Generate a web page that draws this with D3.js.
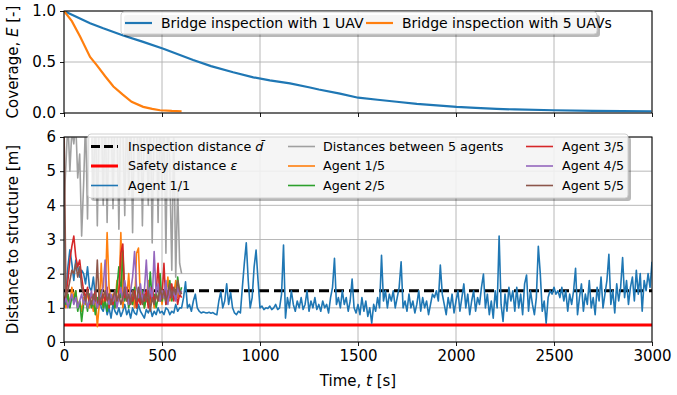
<!DOCTYPE html>
<html>
<head>
<meta charset="utf-8">
<script src="https://cdn.jsdelivr.net/npm/d3@7"></script>
<style>
  body { margin: 0; background: #fff; }
  text { font-family: "DejaVu Sans", sans-serif; fill: #000; }
</style>
</head>
<body>
<svg id="chart" width="677" height="395"></svg>
<script>
// coverage curves (top panel)
const covTime1 = [0, 133, 200, 302, 400, 507, 659, 750, 863, 966, 1050, 1153, 1255, 1300, 1408, 1501, 1600, 1697, 1800, 2003, 2100, 2207, 2300, 2496, 2700, 2997];
const cov1 = [1.0, 0.88, 0.83, 0.76, 0.70, 0.63, 0.52, 0.46, 0.40, 0.35, 0.32, 0.29, 0.25, 0.23, 0.19, 0.15, 0.13, 0.11, 0.09, 0.06, 0.05, 0.04, 0.035, 0.027, 0.02, 0.017];
const covTime5 = [0, 40, 82, 133, 167, 210, 252, 300, 345, 404, 450, 490, 550, 600];
const cov5 = [1.0, 0.9, 0.75, 0.55, 0.47, 0.36, 0.26, 0.18, 0.11, 0.06, 0.04, 0.027, 0.02, 0.017];

// distance series, sampled every 10 s
const step = 10;
const inspectionDist = 1.5;
const safetyDist = 0.5;

const agent11 = [
  1.0, 1.4, 2.2, 2.7, 2.3, 1.8, 2.4, 2.2, 1.9, 2.1,
  2.0, 1.7, 2.2, 1.6, 1.5, 1.9, 1.3, 1.1, 1.4, 1.0,
  0.9, 1.2, 0.8, 1.0, 0.7, 1.1, 0.9, 0.8, 1.0, 0.75,
  0.9, 1.1, 0.8, 0.95, 0.7, 1.0, 0.85, 0.8, 1.1, 0.9,
  0.8, 0.7, 0.95, 0.85, 1.0, 0.75, 0.9, 0.8, 1.0, 0.85,
  0.9, 0.8, 1.0, 0.95, 0.8, 0.9, 0.85, 1.1, 0.9, 1.0,
  1.0, 1.3, 1.76, 1.0, 1.1, 0.9, 1.2, 1.4, 1.0, 0.9,
  0.85, 0.88, 0.86, 0.85, 0.87, 0.84, 0.86, 0.82, 0.8, 1.2,
  1.47, 1.0, 1.2, 1.7, 1.1, 1.45, 1.0, 0.85, 0.8, 0.9,
  0.85, 1.6, 2.3, 2.9, 1.8, 1.0, 1.3, 2.2, 2.69, 1.8,
  1.0, 1.05, 0.95, 1.0, 0.98, 1.05, 0.95, 1.0, 1.1, 0.95,
  1.0, 1.4, 2.84, 0.7, 1.3, 1.0, 1.5, 1.1, 0.9, 1.2,
  1.0, 1.3, 0.95, 1.1, 1.5, 0.9, 1.2, 1.0, 1.3, 0.95,
  1.1, 0.9, 1.2, 1.0, 1.1, 0.85, 1.3, 1.6, 2.45, 1.1,
  1.3, 1.0, 1.5, 1.1, 1.3, 0.9, 1.2, 1.84, 1.0, 0.85,
  1.1, 0.8, 1.3, 0.9, 1.2, 0.75, 1.0, 0.55, 1.1, 0.9,
  1.3, 1.0, 2.54, 1.2, 1.5, 1.0, 1.4, 1.2, 1.5, 1.0,
  1.3, 1.6, 2.35, 1.0, 1.2, 0.9, 1.4, 1.0, 1.2, 0.85,
  1.1, 1.5, 0.9, 1.3, 1.0, 1.2, 0.8, 1.1, 1.4, 1.3,
  1.5, 1.2, 2.25, 1.4, 1.1, 0.8, 1.3, 1.0, 1.4, 0.85,
  1.2, 1.5, 0.9, 1.3, 1.7, 1.0, 1.4, 0.8, 1.2, 1.5,
  0.9, 1.3, 1.1, 1.6, 1.99, 1.0, 1.4, 0.8, 1.2, 0.7,
  1.5, 1.0, 3.1, 1.1, 0.6, 1.4, 0.9, 1.6, 1.2, 1.5,
  0.9, 1.6, 1.0, 1.4, 0.8, 1.7, 1.96, 0.9, 1.5, 1.1,
  0.8, 1.3, 2.8, 2.0, 0.9, 1.2, 0.55, 1.3, 1.5, 1.4,
  1.6, 1.4, 1.5, 1.3, 1.6, 1.2, 1.5, 0.9, 1.4, 1.1,
  1.5, 2.16, 0.8, 1.3, 1.7, 0.9, 1.4, 1.1, 1.8, 1.0,
  1.3, 0.8, 1.6, 1.2, 1.9, 1.0, 1.4, 1.8, 2.57, 1.1,
  1.5, 0.85, 1.7, 1.2, 1.6, 2.47, 1.3, 1.8, 1.1, 1.6,
  1.9, 1.2, 2.1, 1.4, 2.0, 0.9, 1.8, 1.5, 2.0, 1.6, 2.35
];

const pairDist = [
  4.0, 5.2, 6.5, 5.0, 6.2, 5.8, 6.4, 4.8, 5.5, 3.1,
  4.6, 6.5, 3.6, 7.0, 6.5, 4.2, 7.0, 3.4, 6.8, 7.0,
  4.0, 7.0, 3.5, 6.6, 7.0, 3.9, 7.0, 6.5, 3.3, 7.0,
  6.4, 3.7, 7.0, 4.3, 7.0, 3.2, 6.8, 7.0, 4.6, 7.0,
  3.4, 6.5, 7.0, 4.0, 7.0, 2.9, 6.6, 7.0, 3.5, 7.0,
  4.2, 6.8, 2.6, 7.0, 5.0, 2.1, 6.2, 1.9, 4.5, 2.3, 2.0
];

const agent15 = [
  1.2, 1.0, 1.4, 1.1, 1.6, 1.3, 1.5, 1.0, 1.2, 0.9,
  1.3, 1.1, 1.5, 1.0, 1.2, 0.9, 1.4, 0.45, 1.1, 2.3,
  1.0, 1.3, 3.2, 1.6, 1.2, 1.4, 1.0, 1.8, 1.2, 3.2,
  1.0, 1.5, 1.2, 2.0, 1.1, 1.4, 1.0, 2.6, 2.75, 1.2,
  1.5, 1.0, 1.3, 1.8, 1.1, 1.6, 1.0, 1.4, 1.2, 1.7,
  1.1, 1.5, 1.3, 1.9, 1.2, 1.6, 1.4, 1.8, 1.3, 1.5, 1.4
];
const agent25 = [
  1.3, 1.1, 1.4, 1.0, 1.3, 1.2, 1.5, 0.9, 1.2, 0.6,
  1.1, 1.3, 0.9, 1.4, 1.0, 1.2, 0.8, 1.3, 1.1, 1.5,
  1.0, 1.2, 0.9, 1.4, 1.1, 1.3, 1.0, 1.6, 2.2, 1.3,
  2.67, 1.2, 1.5, 1.0, 1.3, 1.1, 1.6, 1.0, 1.4, 1.2,
  1.5, 1.0, 1.3, 1.1, 2.05, 1.2, 1.4, 1.0, 1.3, 2.0,
  1.2, 1.5, 1.1, 1.4, 1.8, 1.2, 1.5, 1.3, 1.9, 1.4, 1.6
];
const agent35 = [
  1.2, 1.4, 1.8, 2.4, 2.8, 3.1, 2.5, 2.2, 2.4, 1.9,
  1.5, 1.3, 1.6, 1.1, 1.4, 1.2, 1.5, 1.0, 1.3, 1.1,
  1.4, 1.2, 1.6, 1.0, 1.3, 1.1, 1.5, 1.2, 1.4, 2.6,
  2.87, 1.3, 1.6, 1.1, 1.4, 1.2, 1.5, 1.0, 1.3, 1.1,
  1.4, 1.2, 1.5, 1.0, 1.3, 1.6, 1.2, 1.4, 2.3, 1.2,
  1.3, 2.3, 1.1, 1.5, 1.3, 1.7, 1.2, 1.5, 1.1, 1.4, 1.3
];
const agent45 = [
  1.1, 1.3, 1.0, 1.2, 1.4, 1.1, 1.3, 1.0, 1.2, 1.4,
  1.1, 1.3, 1.0, 1.2, 1.5, 1.1, 1.3, 1.0, 1.2, 1.4,
  1.6, 2.4, 1.3, 1.1, 1.4, 1.2, 1.5, 1.0, 1.3, 1.6,
  1.2, 1.8, 1.4, 1.1, 1.5, 1.9, 2.65, 1.6, 1.3, 1.7,
  1.2, 1.5, 2.4, 1.3, 1.6, 1.2, 2.65, 1.4, 1.7, 1.2,
  1.5, 1.3, 1.8, 1.1, 1.6, 1.3, 1.5, 1.2, 1.6, 1.4, 1.5
];
const agent55 = [
  6.5, 1.3, 1.5, 1.8, 2.1, 2.0, 2.3, 1.9, 2.2, 1.6,
  1.4, 1.2, 1.5, 1.3, 1.1, 1.4, 1.2, 2.4, 1.1, 1.3,
  1.3, 1.5, 1.2, 1.4, 1.1, 1.3, 1.5, 1.2, 1.4, 1.1,
  1.3, 1.6, 1.2, 1.4, 1.1, 1.5, 1.3, 1.2, 1.6, 1.3,
  1.1, 1.4, 1.2, 1.5, 0.9, 1.3, 1.1, 1.4, 1.2, 1.6,
  1.3, 1.5, 1.2, 1.4, 1.7, 1.3, 1.6, 1.4, 1.8, 1.5, 1.4
];

const xTicks = [0, 500, 1000, 1500, 2000, 2500, 3000];
const covTicks = [0, 0.5, 1.0];
const distTicks = [0, 1, 2, 3, 4, 5, 6];

const C = {
  blue: "#1f77b4", orange: "#ff7f0e", green: "#2ca02c", red: "#d62728",
  purple: "#9467bd", brown: "#8c564b", gray: "#a0a0a0"
};

const svg = d3.select("#chart");
const L = 64, R = 652;
const top1 = 11, bot1 = 113, top2 = 137, bot2 = 342;
const tickFont = "15px";

const x = d3.scaleLinear().domain([0, 3000]).range([L, R]);
const y1 = d3.scaleLinear().domain([0, 1]).range([bot1, top1]);
const y2 = d3.scaleLinear().domain([0, 6]).range([bot2, top2]);

const defs = svg.append("defs");
defs.append("clipPath").attr("id", "clip1").append("rect")
  .attr("x", L).attr("y", top1).attr("width", R - L).attr("height", bot1 - top1);
defs.append("clipPath").attr("id", "clip2").append("rect")
  .attr("x", L).attr("y", top2).attr("width", R - L).attr("height", bot2 - top2);

function grid(g, y, yTicks, top, bot) {
  g.selectAll(".gx").data(xTicks).enter().append("line")
    .attr("x1", d => x(d)).attr("x2", d => x(d)).attr("y1", top).attr("y2", bot)
    .attr("stroke", "#b0b0b0").attr("stroke-width", 0.9);
  g.selectAll(".gy").data(yTicks).enter().append("line")
    .attr("x1", L).attr("x2", R).attr("y1", d => y(d)).attr("y2", d => y(d))
    .attr("stroke", "#b0b0b0").attr("stroke-width", 0.9);
}

function axes(y, yTicks, fmt, top, bot, showX) {
  const ax = svg.append("g").attr("transform", `translate(0,${bot})`)
    .call(d3.axisBottom(x).tickValues(xTicks).tickSize(4).tickPadding(4)
      .tickFormat(showX ? d3.format("d") : ""));
  const ay = svg.append("g").attr("transform", `translate(${L},0)`)
    .call(d3.axisLeft(y).tickValues(yTicks).tickSize(4).tickPadding(4).tickFormat(fmt));
  [ax, ay].forEach(a => {
    a.select(".domain").remove();
    a.selectAll("text").style("font-size", tickFont).style("font-family", "DejaVu Sans");
    a.selectAll("line").attr("stroke", "#000").attr("stroke-width", 0.9);
  });
  svg.append("rect").attr("x", L).attr("y", top).attr("width", R - L).attr("height", bot - top)
    .attr("fill", "none").attr("stroke", "#000").attr("stroke-width", 1);
}

function legend(x0, y0, w, h, fs, items) {
  const g = svg.append("g");
  g.append("rect").attr("x", x0 + 3).attr("y", y0 + 3).attr("width", w).attr("height", h)
    .attr("rx", 3).attr("fill", "#000").attr("opacity", 0.28);
  g.append("rect").attr("x", x0).attr("y", y0).attr("width", w).attr("height", h)
    .attr("rx", 3).attr("fill", "#fff").attr("fill-opacity", 0.85)
    .attr("stroke", "#d0d0d0").attr("stroke-width", 1);
  items.forEach(it => {
    g.append("line").attr("x1", it.x).attr("x2", it.x + 27).attr("y1", it.y).attr("y2", it.y)
      .attr("stroke", it.color).attr("stroke-width", it.lw)
      .attr("stroke-dasharray", it.dash || null);
    g.append("text").attr("x", it.tx).attr("y", it.y).attr("dy", "0.35em")
      .style("font-size", fs).html(it.label);
  });
}

// ---- top panel ----
const g1 = svg.append("g");
grid(g1, y1, covTicks, top1, bot1);
const line1 = d3.line().x(d => x(d[0])).y(d => y1(d[1]));
const p1 = svg.append("g").attr("clip-path", "url(#clip1)");
p1.append("path").datum(d3.zip(covTime1, cov1)).attr("d", line1)
  .attr("fill", "none").attr("stroke", C.blue).attr("stroke-width", 2.2);
p1.append("path").datum(d3.zip(covTime5, cov5)).attr("d", line1)
  .attr("fill", "none").attr("stroke", C.orange).attr("stroke-width", 2.2);
axes(y1, covTicks, d3.format(".1f"), top1, bot1, false);

// ---- bottom panel ----
const g2 = svg.append("g");
grid(g2, y2, distTicks, top2, bot2);
const line2 = d3.line().x((d, i) => x(i * step)).y(d => y2(d));
const p2 = svg.append("g").attr("clip-path", "url(#clip2)");
p2.append("line").attr("x1", x(0)).attr("x2", x(3000))
  .attr("y1", y2(inspectionDist)).attr("y2", y2(inspectionDist))
  .attr("stroke", "#000").attr("stroke-width", 3).attr("stroke-dasharray", "10,5");
p2.append("line").attr("x1", x(0)).attr("x2", x(3000))
  .attr("y1", y2(safetyDist)).attr("y2", y2(safetyDist))
  .attr("stroke", "#ff0000").attr("stroke-width", 3);
const series = [
  [agent11, C.blue], [pairDist, C.gray], [agent15, C.orange], [agent25, C.green],
  [agent35, C.red], [agent45, C.purple], [agent55, C.brown]
];
series.forEach(([d, c]) => {
  p2.append("path").datum(d).attr("d", line2)
    .attr("fill", "none").attr("stroke", c).attr("stroke-width", 1.6)
    .attr("stroke-linejoin", "round");
});
axes(y2, distTicks, d3.format("d"), top2, bot2, true);

// legends
legend(121, 12, 476, 22, "14px", [
  { x: 125, tx: 161, y: 23, color: C.blue, lw: 2.2, label: "Bridge inspection with 1 UAV" },
  { x: 366, tx: 402, y: 23, color: C.orange, lw: 2.2, label: "Bridge inspection with 5 UAVs" }
]);
const ry = [146.5, 166, 185.5];
const c1 = 91, c2 = 288, c3 = 526;
legend(88, 134, 540, 64, "12.7px", [
  { x: c1, tx: c1 + 37, y: ry[0], color: "#000", lw: 3, dash: "9,4",
    label: 'Inspection distance <tspan font-style="italic">d\u0304</tspan>' },
  { x: c1, tx: c1 + 37, y: ry[1], color: "#ff0000", lw: 3,
    label: 'Safety distance <tspan font-style="italic">\u03b5</tspan>' },
  { x: c1, tx: c1 + 37, y: ry[2], color: C.blue, lw: 1.6, label: "Agent 1/1" },
  { x: c2, tx: c2 + 35, y: ry[0], color: C.gray, lw: 1.6, label: "Distances between 5 agents" },
  { x: c2, tx: c2 + 35, y: ry[1], color: C.orange, lw: 1.6, label: "Agent 1/5" },
  { x: c2, tx: c2 + 35, y: ry[2], color: C.green, lw: 1.6, label: "Agent 2/5" },
  { x: c3, tx: c3 + 36, y: ry[0], color: C.red, lw: 1.6, label: "Agent 3/5" },
  { x: c3, tx: c3 + 36, y: ry[1], color: C.purple, lw: 1.6, label: "Agent 4/5" },
  { x: c3, tx: c3 + 36, y: ry[2], color: C.brown, lw: 1.6, label: "Agent 5/5" }
]);

// axis labels
svg.append("text").attr("transform", `translate(13,${(top1 + bot1) / 2}) rotate(-90)`)
  .attr("text-anchor", "middle").attr("dy", "0.35em").style("font-size", tickFont)
  .html('Coverage, <tspan font-style="italic">E</tspan> [-]');
svg.append("text").attr("transform", `translate(13,${(top2 + bot2) / 2}) rotate(-90)`)
  .attr("text-anchor", "middle").attr("dy", "0.35em").style("font-size", tickFont)
  .text("Distance to structure [m]");
svg.append("text").attr("x", (L + R) / 2).attr("y", 386).attr("text-anchor", "middle")
  .style("font-size", tickFont)
  .html('Time, <tspan font-style="italic">t</tspan> [s]');
</script>
</body>
</html>
